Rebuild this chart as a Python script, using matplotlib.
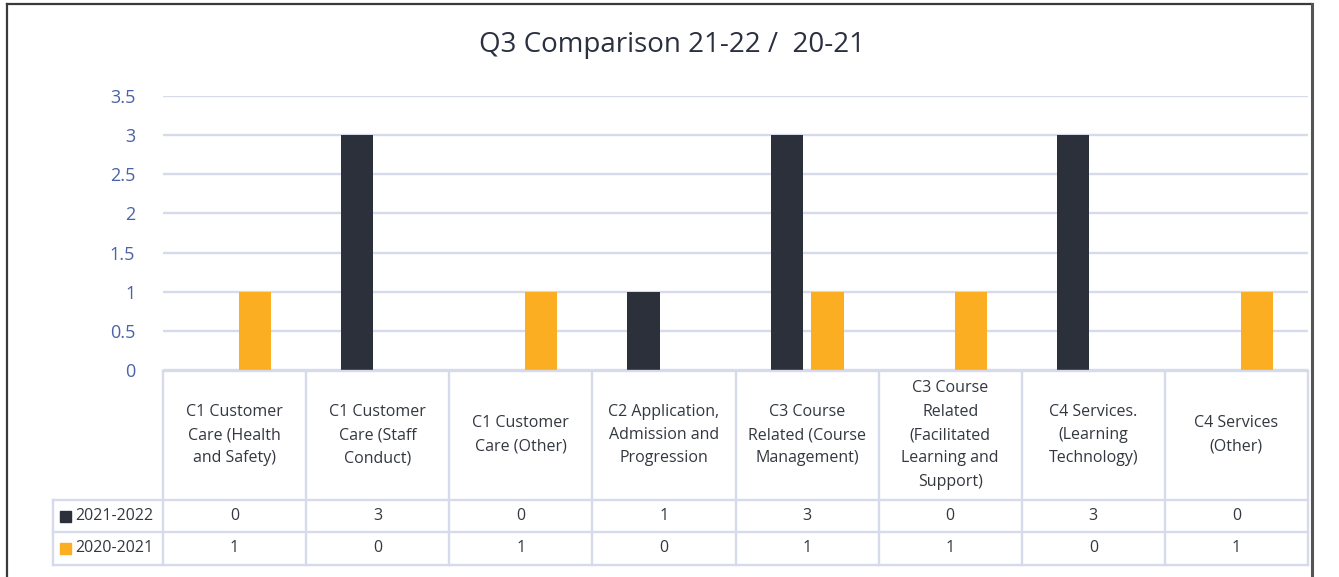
import matplotlib.pyplot as plt
import numpy as np
from matplotlib.lines import Line2D
from matplotlib.patches import Rectangle

plt.rcParams['font.family'] = ['Open Sans', 'DejaVu Sans']

categories = [
    "C1 Customer\nCare (Health\nand Safety)",
    "C1 Customer\nCare (Staff\nConduct)",
    "C1 Customer\nCare (Other)",
    "C2 Application,\nAdmission and\nProgression",
    "C3 Course\nRelated (Course\nManagement)",
    "C3 Course\nRelated\n(Facilitated\nLearning and\nSupport)",
    "C4 Services.\n(Learning\nTechnology)",
    "C4 Services\n(Other)",
]
series_names = ["2021-2022", "2020-2021"]
values_2122 = [0, 3, 0, 1, 3, 0, 3, 0]
values_2021 = [1, 0, 1, 0, 1, 1, 0, 1]
yticks = [0, 0.5, 1, 1.5, 2, 2.5, 3, 3.5]
ytick_labels = ["0", "0.5", "1", "1.5", "2", "2.5", "3", "3.5"]

DARK = "#2b303b"
ORANGE = "#fbae22"
GRID = "#d6daea"
TICK = "#4a62a6"
TEXT = "#333840"

W, H = 1339, 577
fig = plt.figure(figsize=(W / 100, H / 100), dpi=100)

def fx(px):
    return px / W

def fy(py):
    return 1 - py / H

# outer frame
fig.add_artist(Line2D([fx(7), fx(7)], [fy(4), fy(580)], color="#3a3a3a", lw=1.6))
fig.add_artist(Line2D([fx(7), fx(1312)], [fy(4), fy(4)], color="#3a3a3a", lw=1.6))
fig.add_artist(Line2D([fx(1312), fx(1312)], [fy(4), fy(580)], color="#555555", lw=2.2))

fig.text(fx(672), fy(45), "Q3 Comparison 21-22 /  20-21", ha="center", va="center",
         fontsize=20, color="#2b3040")

left, right, top, bottom = 163, 1308, 96, 370
ax = fig.add_axes([fx(left), fy(bottom), fx(right - left), (bottom - top) / H])
n = len(categories)
x = np.arange(n)
bw = 0.224
off = 0.143
ax.bar(x - off, values_2122, bw, color=DARK, zorder=3)
ax.bar(x + off, values_2021, bw, color=ORANGE, zorder=3)
ax.set_xlim(-0.5, n - 0.5)
ax.set_ylim(0, 3.5)
ax.set_yticks(yticks)
ax.set_yticklabels(ytick_labels)
ax.set_xticks([])
ax.tick_params(axis="y", length=0, pad=20, labelsize=13, labelcolor=TICK)
for y in yticks:
    ax.axhline(y, color=GRID, lw=1.7, zorder=1)
for s in ax.spines.values():
    s.set_visible(False)

# data table below the plot
col_edges = [left + i * (right - left) / n for i in range(n + 1)]
hdr_top, hdr_bot, row1_bot, row2_bot = 371, 500, 532, 565
lab_left = 53
lw_t = 1.7
for xe in col_edges:
    fig.add_artist(Line2D([fx(xe), fx(xe)], [fy(hdr_top), fy(row2_bot)], color=GRID, lw=lw_t))
fig.add_artist(Line2D([fx(left), fx(right)], [fy(hdr_top), fy(hdr_top)], color=GRID, lw=lw_t))
for yy in (hdr_bot, row1_bot, row2_bot):
    fig.add_artist(Line2D([fx(lab_left), fx(right)], [fy(yy), fy(yy)], color=GRID, lw=lw_t))
fig.add_artist(Line2D([fx(lab_left), fx(lab_left)], [fy(hdr_bot), fy(row2_bot)], color=GRID, lw=lw_t))

for i, cat in enumerate(categories):
    cx = (col_edges[i] + col_edges[i + 1]) / 2
    fig.text(fx(cx), fy(435), cat, ha="center", va="center", fontsize=11.5,
             color=TEXT, linespacing=1.62)

rows = [(series_names[0], values_2122, DARK, 516), (series_names[1], values_2021, ORANGE, 548)]
for name, vals, col, cy in rows:
    fig.add_artist(Rectangle((fx(60), fy(cy + 6)), 11 / W, 11 / H, color=col))
    fig.text(fx(75), fy(cy), name, ha="left", va="center", fontsize=11.5, color=TEXT)
    for i, v in enumerate(vals):
        cx = (col_edges[i] + col_edges[i + 1]) / 2
        fig.text(fx(cx), fy(cy), str(v), ha="center", va="center", fontsize=11.5, color=TEXT)

fig.savefig("out.png", dpi=100)
